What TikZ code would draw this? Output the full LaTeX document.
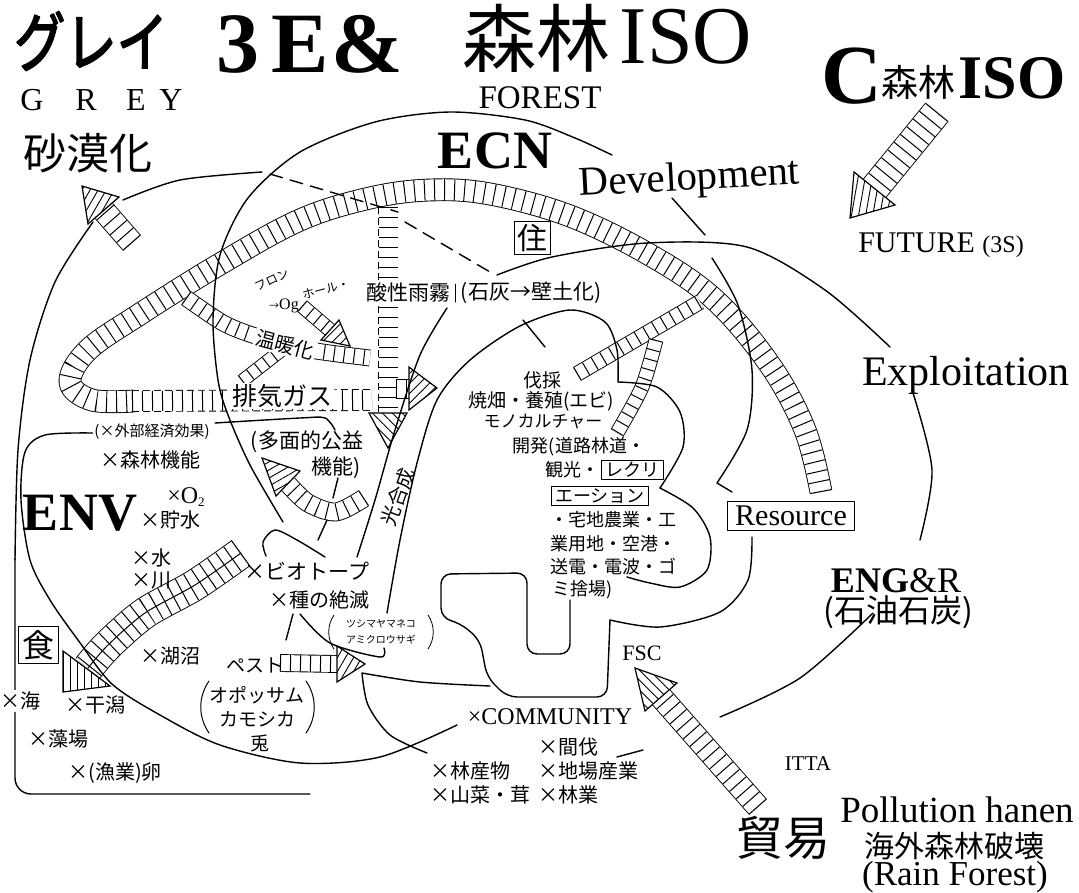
\documentclass[tikz,border=0pt]{standalone}
\usepackage{fontspec}
\setmainfont{Liberation Serif}
\newfontfamily\jp{Noto Sans CJK JP}
\newfontfamily\jpB[FakeBold=3]{Noto Sans CJK JP}
\usetikzlibrary{patterns.meta}
\newcommand\fsz[1]{\fontsize{#1}{#1}\selectfont}
\newcommand\bandL[2]{%
  \draw[line width=#1+1.8pt,line cap=butt] #2;
  \draw[line width=#1,white,line cap=butt] #2;
  \draw[line width=#1,line cap=butt,dash pattern=on 1pt off 9pt] #2;}
\newcommand\bandD[2]{%
  \draw[line width=#1+1.8pt,line cap=butt,dash pattern=on 7pt off 4pt] #2;
  \draw[line width=#1,white,line cap=butt] #2;
  \draw[line width=#1,line cap=butt,dash pattern=on 1pt off 9pt] #2;}
\tikzset{
  hd/.style={draw,line width=1.2pt,fill=white,line join=miter,
    postaction={pattern={Lines[angle=#1,distance=7pt,line width=0.9pt]}}},
  wt/.style={fill=white,inner sep=1.5pt},
  tx/.style={inner sep=0pt},
  paren/.style={line width=1pt}
}
\begin{document}
\begin{tikzpicture}[x=1pt,y=-1pt,line width=1.4pt,line cap=round,line join=round]
\fill[white] (0,0) rectangle (1079,892);
\useasboundingbox (0,0) rectangle (1079,892);

% ---------- hatched bands ----------
\bandL{21pt}{plot[smooth,tension=0.6] coordinates {(821,492) (805,430) (770,365) (715,300) (650,255) (570,216) (490,194) (430,190) (370,198) (300,220) (220,264) (140,314) (88,350) (70,382) (92,400) (134,401)}}
\bandD{20pt}{(132,401) -- (372,400)}
\bandD{19pt}{(388,207) -- (388,413)}
\draw[hd=-45] (369,413) -- (407,413) -- (388,448) -- cycle;
\bandL{18pt}{(396,389) -- (409,389)}
\draw[hd=45] (409,367) -- (437,388) -- (409,410) -- cycle;

\bandL{15pt}{plot[smooth] coordinates {(186,298) (225,324) (262,338) (310,350) (370,358)}}
\bandL{13pt}{(302,306) -- (330,330)}
\draw[hd=45] (321,340) -- (339,320) -- (350,346) -- cycle;
\bandL{12pt}{(242,381) -- (283,349)}

\bandL{17pt}{plot[smooth] coordinates {(364,498) (336,512) (308,503) (288,484)}}
\draw[hd=30] (300,471) -- (262,458) -- (276,496) -- cycle;

\bandL{30pt}{plot[smooth] coordinates {(241,553) (195,585) (145,613) (108,645) (88,668)}}
\draw[line width=1pt] plot[smooth] coordinates {(241,553) (195,585) (145,613) (108,645) (88,668)};
\draw[hd=90] (63,651) -- (110,686) -- (63,692) -- cycle;

\bandL{16pt}{(280,663) -- (337,664)}
\draw[hd=60] (337,646) -- (365,664) -- (337,682) -- cycle;

\bandL{22pt}{(132,243) -- (104,211)}
\draw[hd=60] (119,197) -- (82,186) -- (88,224) -- cycle;

\bandL{28pt}{(937,112) -- (874,189)}
\draw[hd=80] (895,205) -- (850,218) -- (854,172) -- cycle;

\bandL{22pt}{(758,807) -- (661,697)}
\draw[hd=-45] (677,683) -- (635,668) -- (645,711) -- cycle;

\bandL{14pt}{(577,374) -- (700,302)}
\bandL{13pt}{plot[smooth] coordinates {(656,340) (642,387) (617,433)}}

% ---------- thin lines ----------
\draw plot[smooth] coordinates {(283,522) (250,465) (228,415) (218,380) (213,320) (220,255) (248,198) (300,152) (375,122) (450,112) (525,120) (575,138) (612,155)};
\draw (672,198) -- (705,235);
\draw plot[smooth] coordinates {(712,258) (738,305) (752,370) (747,430) (717,483)} -- (732,492);
\draw plot[smooth] coordinates {(123,200) (180,180) (262,172)};
\draw plot[smooth] coordinates {(93,222) (55,282) (30,360) (18,450) (15,560)};
\draw[rounded corners=16pt] (15,558) -- (15,794) -- (310,794);
\draw[dash pattern=on 13pt off 8pt] (270,174) -- (398,212);
\draw[dash pattern=on 13pt off 8pt] (405,222) -- (490,272);
\draw plot[smooth] coordinates {(93,433) (45,435) (25,452) (21,500) (30,560) (50,600) (78,640) (112,684) (160,715) (220,745) (300,763) (380,757) (457,725)};
\draw plot[smooth] coordinates {(215,423) (300,418) (325,418) (335,430)};
\draw plot[smooth] coordinates {(325,557) (297,540) (275,530) (263,542) (266,556)};
\draw (318,540) -- (327,520);
\draw (333,498) -- (338,478);
\draw (293,614) -- (286,640);
\draw plot[smooth] coordinates {(300,614) (330,643) (380,657) (384,648)};
\draw plot[smooth] coordinates {(362,673) (420,682) (490,686)};
\draw plot[smooth] coordinates {(362,673) (368,705) (390,735) (427,753)};
\draw (617,757) -- (643,750);
\draw plot[smooth] coordinates {(720,717) (800,678) (873,613)};
\draw plot[smooth] coordinates {(913,393) (932,470) (920,540)};
\draw plot[smooth] coordinates {(497,275) (552,257) (647,243) (747,247) (825,290) (890,347)};
\draw plot[smooth] coordinates {(447,308) (420,355) (395,430) (375,500) (357,557)};
\draw plot[smooth] coordinates {(387,613) (400,540) (417,463) (437,400) (470,360) (520,326) (570,310) (605,322) (617,350) (618,382)};
\draw plot[smooth] coordinates {(618,382) (657,387) (680,412) (683,447) (660,488)};
\draw plot[smooth] coordinates {(660,488) (693,508) (710,537) (707,570) (680,587) (650,583) (627,577)};
\draw plot[smooth] coordinates {(752,537) (748,580) (720,612) (660,627) (610,620)};
\draw[rounded corners=10pt] (610,620) -- (607,697) -- (507,697) -- (487,677) -- (480,640) -- (460,623) -- (441,618) -- (441,574) -- (527,573) -- (527,654) -- (570,654) -- (570,600);
\draw (523,320) -- (545,347);
\draw[line width=1pt] (455,284) -- (455,302);

% parentheses drawn as arcs
\draw[paren,line width=0.8pt] (334,615) .. controls (327,625) and (327,639) .. (334,649);
\draw[paren,line width=0.8pt] (428,615) .. controls (435,625) and (435,639) .. (428,649);
\draw[paren] (209,681) .. controls (198,697) and (198,717) .. (209,733);
\draw[paren] (306,681) .. controls (317,697) and (317,717) .. (306,733);

% ---------- texts ----------
\node[tx,font=\jpB\fsz{54}] (tGrey) at (91,41) {\scalebox{0.95}[1.2]{グレイ}};
\node[tx,font=\bfseries\fsz{86},anchor=base] (t3) at (238,72) {3};
\node[tx,font=\bfseries\fsz{86},anchor=base] (tE) at (300,72) {E};
\node[tx,font=\bfseries\fsz{86},anchor=base] (tAmp) at (367,72) {\&};
\node[tx,font=\fsz{32},anchor=base] (gG) at (32,110) {G};
\node[tx,font=\fsz{32},anchor=base] (gR) at (86,110) {R};
\node[tx,font=\fsz{32},anchor=base] (gE) at (136,110) {E};
\node[tx,font=\fsz{32},anchor=base] (gY) at (171,110) {Y};
\node[tx,font=\jp\fsz{74}] (tForest) at (536,38) {森林};
\node[tx,font=\fsz{82},anchor=base] (tIso) at (686,63) {ISO};
\node[tx,font=\fsz{33},anchor=base] (tFOREST) at (540,108) {FOREST};
\node[tx,font=\bfseries\fsz{84},anchor=base] (tC) at (852,103) {C};
\node[tx,font=\jp\fsz{37}] (tCforest) at (918,82) {森林};
\node[tx,font=\bfseries\fsz{62},anchor=base] (tCiso) at (1012,98) {ISO};
\node[tx,anchor=base] (tFuture) at (941,252) {\fsz{30}FUTURE {\fsz{24}(3S)}};
\node[tx,font=\jp\fsz{43}] (tSabaku) at (88,153) {砂漠化};
\node[tx,font=\bfseries\fsz{54},anchor=base] (tECN) at (495,168) {ECN};
\node[tx,font=\fsz{41},anchor=base,rotate=3] (tDev) at (690,190) {Development};
\node[draw,line width=1pt,fill=white,font=\jp\fsz{30},inner sep=3pt] (tJu) at (532,238) {住};
\node[tx,font=\fsz{42},anchor=base] (tExp) at (966,385) {Exploitation};
\node[draw,line width=1pt,fill=white,font=\fsz{30},inner xsep=8pt,inner ysep=5pt] (tRes) at (791,516) {Resource};
\node[tx,font=\fsz{36},anchor=base] (tENG) at (896,592) {\textbf{ENG}\&R};
\node[tx,font=\jp\fsz{32}] (tSekiyu) at (898,612) {(石油石炭)};
\node[tx,font=\fsz{22},anchor=base] (tFSC) at (642,660) {FSC};
\node[tx,font=\fsz{21},anchor=base] (tITTA) at (808,770) {ITTA};
\node[tx,font=\fsz{37},anchor=base] (tPol) at (957,822) {Pollution hanen};
\node[tx,font=\jp\fsz{30}] (tKaigai) at (954,846) {海外森林破壊};
\node[tx,font=\fsz{35},anchor=base] (tRain) at (955,885) {(Rain Forest)};
\node[tx,font=\jp\fsz{47}] (tBoeki) at (783,838) {貿易};
\node[tx,font=\bfseries\fsz{54},anchor=base] (tENV) at (80,530) {ENV};
\node[draw,line width=1pt,fill=white,font=\jp\fsz{32},inner sep=4pt] (tShoku) at (38,645) {食};
\node[wt,font=\jp\fsz{20}] (tUmi) at (21,701) {×海};
\node[tx,font=\jp\fsz{20}] (tHigata) at (95,705) {×干潟};
\node[tx,font=\jp\fsz{20}] (tMoba) at (58,739) {×藻場};
\node[tx,font=\jp\fsz{20}] (tRan) at (115,773) {×(漁業)卵};
\node[tx,font=\jp\fsz{20}] (tKosho) at (170,656) {×湖沼};
\node[wt,font=\jp\fsz{15}] (tGaibu) at (152,432) {(×外部経済効果)};
\node[tx,font=\jp\fsz{20}] (tShinrin) at (150,460) {×森林機能};
\node[tx,font=\fsz{24},anchor=base] (tO2) at (186,503) {×O\raisebox{-3pt}{\fsz{13}2}};
\node[tx,font=\jp\fsz{20}] (tChosui) at (170,520) {×貯水};
\node[tx,font=\jp\fsz{20}] (tMizu) at (151,558) {×水};
\node[tx,font=\jp\fsz{20}] (tKawa) at (151,580) {×川};
\node[tx,font=\jp\fsz{21}] (tTamen) at (307,442) {(多面的公益};
\node[tx,font=\jp\fsz{21}] (tKino) at (336,468) {機能)};
\node[wt,font=\jp\fsz{25}] (tHaiki) at (282,396) {排気ガス};
\node[wt,font=\jp\fsz{20},rotate=-15] (tOndan) at (285,345) {温暖化};
\node[tx,font=\jp\fsz{12},rotate=25] (tFuron) at (272,280) {フロン};
\node[tx,font=\fsz{16}] (tOg) at (284,306) {{\jp\fsz{10}→}Og};
\node[tx,font=\jp\fsz{12},rotate=15] (tHole) at (326,289) {ホール・};
\node[wt,font=\jp\fsz{21}] (tSansei) at (408,293) {酸性雨霧};
\node[tx,font=\jp\fsz{21}] (tSekkai) at (531,293) {(石灰→壁土化)};
\node[tx,font=\jp\fsz{19}] (b1) at (542,380) {伐採};
\node[tx,font=\jp\fsz{19}] (b2) at (541,401) {焼畑・養殖(エビ)};
\node[tx,font=\jp\fsz{17}] (b3) at (543,422) {モノカルチャー};
\node[tx,font=\jp\fsz{18}] (b4) at (579,447) {開発(道路林道・};
\node[tx,font=\jp\fsz{18},anchor=east] (b5) at (600,470) {観光・};
\node[draw,line width=0.8pt,font=\jp\fsz{18},inner xsep=4pt,inner ysep=2pt,anchor=west] (b6) at (601,470) {レクリ};
\node[draw,line width=0.8pt,font=\jp\fsz{18},inner xsep=4pt,inner ysep=2pt] (b7) at (600,496) {エーション};
\node[tx,font=\jp\fsz{18},anchor=west] (b8) at (550,520) {・宅地農業・工};
\node[tx,font=\jp\fsz{18},anchor=west] (b9) at (550,544) {業用地・空港・};
\node[tx,font=\jp\fsz{18},anchor=west] (b10) at (550,567) {送電・電波・ゴ};
\node[tx,font=\jp\fsz{18},anchor=west] (b11) at (552,590) {ミ捨場)};
\node[tx,font=\jp\fsz{20},rotate=70] (tKogo) at (398,497) {光合成};
\node[tx,font=\jp\fsz{21}] (tBio) at (307,571) {×ビオトープ};
\node[tx,font=\jp\fsz{20}] (tShu) at (319,600) {×種の絶滅};
\node[tx,font=\jp\fsz{10}] (tTsu1) at (381,624) {ツシマヤマネコ};
\node[tx,font=\jp\fsz{10}] (tTsu2) at (381,640) {アミクロウサギ};
\node[tx,font=\jp\fsz{19}] (tPest) at (255,665) {ペスト};
\node[tx,font=\jp\fsz{19}] (tOpo1) at (257,695) {オポッサム};
\node[tx,font=\jp\fsz{19}] (tOpo2) at (257,719) {カモシカ};
\node[tx,font=\jp\fsz{19}] (tUsagi) at (260,743) {兎};
\node[tx,font=\fsz{24},anchor=base] (tCom) at (550,724) {×COMMUNITY};
\node[tx,font=\jp\fsz{20},anchor=west] (c1) at (538,747) {×間伐};
\node[tx,font=\jp\fsz{20},anchor=west] (c2) at (538,771) {×地場産業};
\node[tx,font=\jp\fsz{20},anchor=west] (c3) at (538,795) {×林業};
\node[tx,font=\jp\fsz{20},anchor=west] (c4) at (430,771) {×林産物};
\node[tx,font=\jp\fsz{20},anchor=west] (c5) at (430,795) {×山菜・茸};
\end{tikzpicture}
\end{document}
